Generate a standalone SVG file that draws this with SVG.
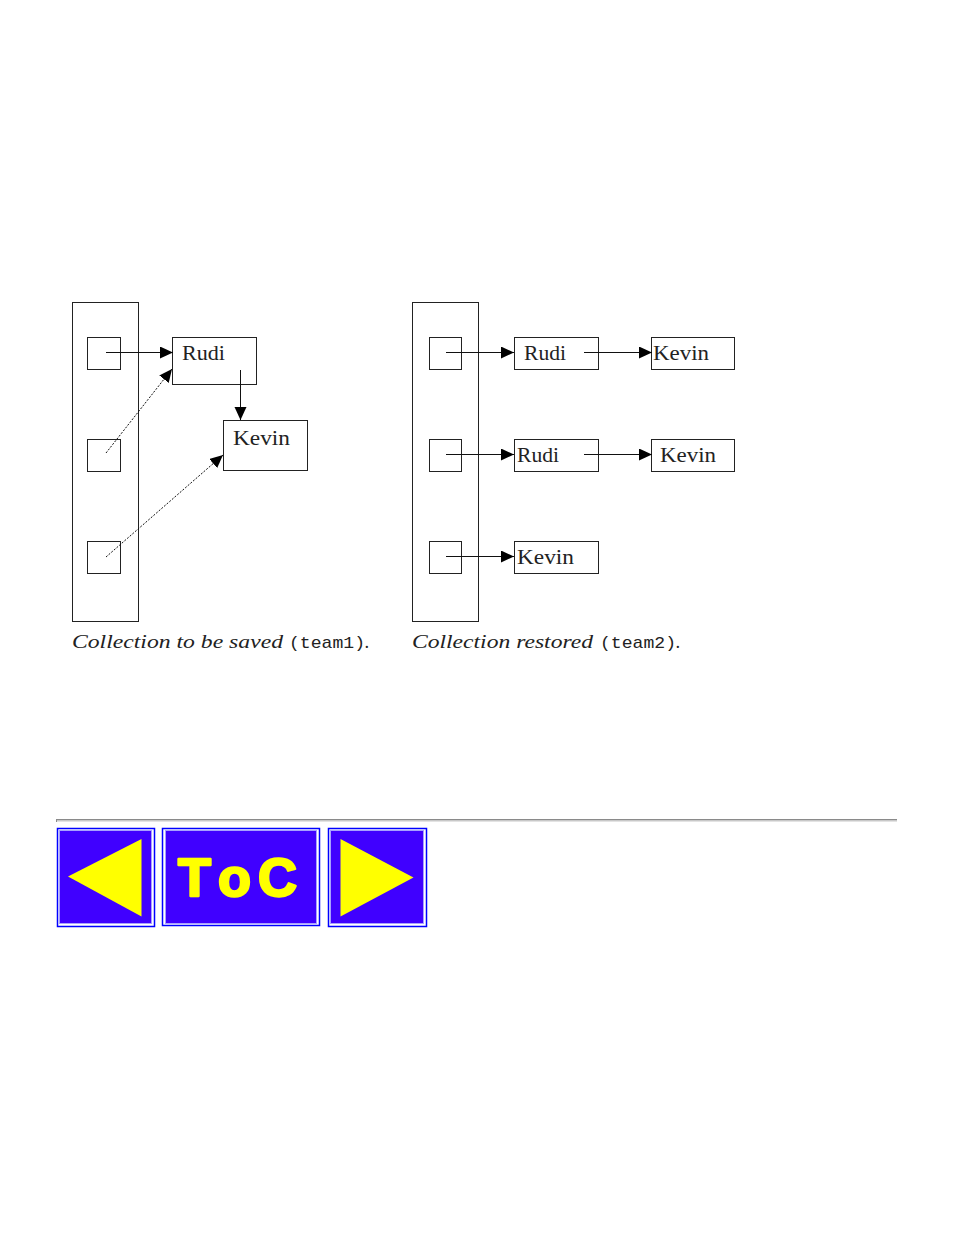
<svg xmlns="http://www.w3.org/2000/svg" width="954" height="1235" viewBox="0 0 954 1235">
<style>
.box{fill:#fff;stroke:#222;stroke-width:1}
.col{fill:none;stroke:#222;stroke-width:1}
.lbl{font-family:"Liberation Serif",serif;font-size:21px;fill:#222}
.cap{font-family:"Liberation Serif",serif;font-style:italic;font-size:18px;fill:#222}
.mono{font-family:"Liberation Mono",monospace;font-size:17px;fill:#222}
.ln{fill:none;stroke:#111;stroke-width:1}
.dash{fill:none;stroke:#111;stroke-width:1;stroke-dasharray:2,1.5}
.btnO{fill:#fff;stroke:#0000ff;stroke-width:1.5}
.btnI{fill:#4000ff;stroke:#a8a0ff;stroke-width:1}
.tri{fill:#ffff00}
.toc{font-family:"Liberation Sans",Arial,sans-serif;font-weight:bold;font-size:54px;fill:#ffff00;stroke:#ffff00;stroke-width:2.5;stroke-linejoin:round}
</style>
<defs>
<marker id="ah" markerUnits="userSpaceOnUse" markerWidth="14" markerHeight="13" refX="13" refY="6" orient="auto">
<path d="M0,0 L13,6 L0,12 z" fill="#000"/>
</marker>
</defs>
<rect width="954" height="1235" fill="#fff"/>

<g id="left-collection">
<rect class="col" x="72.5" y="302.5" width="66" height="319"/>
<rect class="box" x="87.5" y="337.5" width="33" height="32"/>
<rect class="box" x="87.5" y="439.5" width="33" height="32"/>
<rect class="box" x="87.5" y="541.5" width="33" height="32"/>
</g>
<g id="left-rudi">
<rect class="box" x="172.5" y="337.5" width="84" height="47"/>
<text class="lbl" x="182" y="360" textLength="43" lengthAdjust="spacingAndGlyphs">Rudi</text>
</g>
<g id="left-kevin">
<rect class="box" x="223.5" y="420.5" width="84" height="50"/>
<text class="lbl" x="233" y="445" textLength="57" lengthAdjust="spacingAndGlyphs">Kevin</text>
</g>

<g id="right-collection">
<rect class="col" x="412.5" y="302.5" width="66" height="319"/>
<rect class="box" x="429.5" y="337.5" width="32" height="32"/>
<rect class="box" x="429.5" y="439.5" width="32" height="32"/>
<rect class="box" x="429.5" y="541.5" width="32" height="32"/>
</g>
<g id="right-rudi-1">
<rect class="box" x="514.5" y="337.5" width="84" height="32"/>
<text class="lbl" x="524" y="360" textLength="42" lengthAdjust="spacingAndGlyphs">Rudi</text>
</g>
<g id="right-kevin-1">
<rect class="box" x="651.5" y="337.5" width="83" height="32"/>
<text class="lbl" x="653" y="360" textLength="56" lengthAdjust="spacingAndGlyphs">Kevin</text>
</g>
<g id="right-rudi-2">
<rect class="box" x="514.5" y="439.5" width="84" height="32"/>
<text class="lbl" x="517" y="462" textLength="42" lengthAdjust="spacingAndGlyphs">Rudi</text>
</g>
<g id="right-kevin-2">
<rect class="box" x="651.5" y="439.5" width="83" height="32"/>
<text class="lbl" x="660" y="462" textLength="56" lengthAdjust="spacingAndGlyphs">Kevin</text>
</g>
<g id="right-kevin-3">
<rect class="box" x="514.5" y="541.5" width="84" height="32"/>
<text class="lbl" x="517" y="564" textLength="57" lengthAdjust="spacingAndGlyphs">Kevin</text>
</g>

<g id="connectors">
<line class="ln" x1="106" y1="352.5" x2="173" y2="352.5" marker-end="url(#ah)"/>
<line class="ln" x1="240.5" y1="370" x2="240.5" y2="420" marker-end="url(#ah)"/>
<line class="dash" x1="106" y1="453" x2="172" y2="369" marker-end="url(#ah)"/>
<line class="dash" x1="106" y1="557" x2="223" y2="455" marker-end="url(#ah)"/>
<line class="ln" x1="446" y1="352.5" x2="514" y2="352.5" marker-end="url(#ah)"/>
<line class="ln" x1="584" y1="352.5" x2="652" y2="352.5" marker-end="url(#ah)"/>
<line class="ln" x1="446" y1="454.5" x2="514" y2="454.5" marker-end="url(#ah)"/>
<line class="ln" x1="584" y1="454.5" x2="652" y2="454.5" marker-end="url(#ah)"/>
<line class="ln" x1="446" y1="556.5" x2="514" y2="556.5" marker-end="url(#ah)"/>
</g>

<g id="captions">
<text class="cap" x="72" y="648" textLength="211" lengthAdjust="spacingAndGlyphs">Collection to be saved</text>
<text class="mono" x="289" y="648" textLength="76" lengthAdjust="spacingAndGlyphs">(team1)</text>
<text class="cap" x="365" y="648">.</text>
<text class="cap" x="412" y="648" textLength="181" lengthAdjust="spacingAndGlyphs">Collection restored</text>
<text class="mono" x="600" y="648" textLength="76" lengthAdjust="spacingAndGlyphs">(team2)</text>
<text class="cap" x="676" y="648">.</text>
</g>

<g id="rule">
<rect x="56" y="819" width="841" height="1" fill="#8a8a8a"/>
<rect x="56" y="820" width="841" height="1.5" fill="#c8c8c8"/>
<rect x="56" y="819" width="1" height="3" fill="#8a8a8a"/>
</g>

<g id="btn-prev">
<rect class="btnO" x="57.5" y="828.5" width="97" height="98"/>
<rect class="btnI" x="59.5" y="830.5" width="92" height="93"/>
<polygon class="tri" points="68,876.5 141.5,839 141.5,916.5"/>
</g>
<g id="btn-toc">
<rect class="btnO" x="162.5" y="828.5" width="157" height="97"/>
<rect class="btnI" x="165.5" y="830.5" width="151" height="93"/>
<text class="toc" y="896"><tspan x="178">T</tspan><tspan x="218">o</tspan><tspan x="258">C</tspan></text>
</g>
<g id="btn-next">
<rect class="btnO" x="328.5" y="828.5" width="98" height="98"/>
<rect class="btnI" x="330.5" y="830.5" width="93" height="93"/>
<polygon class="tri" points="340.5,839 413.5,877.5 340.5,916.5"/>
</g>
</svg>
